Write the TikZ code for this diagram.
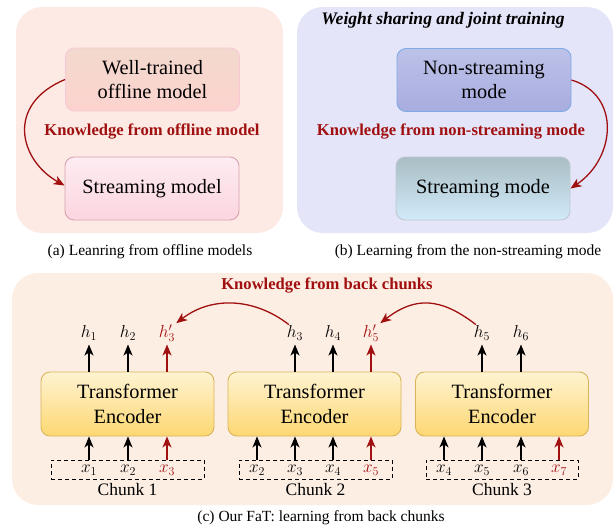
\documentclass[tikz,border=0pt]{standalone}
\usepackage{fontspec}
\setmainfont{Liberation Serif}
\usetikzlibrary{arrows.meta,positioning}

\definecolor{kred}{RGB}{160,16,16}
\definecolor{bga}{RGB}{253,234,228}
\definecolor{bgb}{RGB}{229,229,250}
\definecolor{bgc}{RGB}{253,238,228}
\definecolor{welltop}{RGB}{242,217,206}
\definecolor{wellbot}{RGB}{252,211,206}
\definecolor{wellrim}{RGB}{248,200,214}
\definecolor{strmtop}{RGB}{253,236,241}
\definecolor{strmbot}{RGB}{252,213,224}
\definecolor{strmrim}{RGB}{216,162,176}
\definecolor{nontop}{RGB}{188,194,232}
\definecolor{nonbot}{RGB}{168,172,223}
\definecolor{nonrim}{RGB}{128,170,230}
\definecolor{modetop}{RGB}{169,190,196}
\definecolor{modebot}{RGB}{209,234,250}
\definecolor{moderim}{RGB}{190,200,208}
\definecolor{enctop}{RGB}{254,243,210}
\definecolor{encbot}{RGB}{253,215,113}
\definecolor{encrim}{RGB}{216,181,90}

\begin{document}
\begin{tikzpicture}[
        x=1pt, y=-1pt,
        panel/.style={rounded corners=26pt},
        modelbox/.style={draw, rounded corners=9pt, line width=0.9pt, align=center,
            font=\fontsize{20.3}{24.5}\selectfont, minimum width=174pt, minimum height=63pt},
        encbox/.style={modelbox, draw=encrim, top color=enctop, bottom color=encbot,
            minimum width=173pt, minimum height=64pt},
        chunkbox/.style={draw, dashed, dash pattern=on 4pt off 3pt, line width=0.9pt,
            minimum height=19pt, inner sep=0pt},
        know/.style={text=kred, font=\bfseries\fontsize{16.6}{20}\selectfont},
        kflow/.style={draw=kred, line width=1.3pt, -{Stealth[length=11pt,width=9pt,inset=3pt]}},
        flow/.style={line width=1.3pt, -{Stealth[length=11pt,width=9pt,inset=3pt]}},
        lab/.style={font=\fontsize{18.5}{22}\selectfont, inner sep=1pt},
        chunkname/.style={font=\fontsize{17.5}{20}\selectfont, inner sep=2pt},
        captext/.style={font=\fontsize{15.5}{18}\selectfont}
    ]
        \useasboundingbox (0,0) rectangle (614,528);
        % panel backgrounds
        \fill[bga, panel] (16,7) rectangle (283,233);
        \fill[bgb, panel] (297,7) rectangle (613,233);
        \fill[bgc, panel] (12,273) rectangle (613,505);

        % (a) learning from offline models
        \node[modelbox, draw=wellrim, top color=welltop, bottom color=wellbot] (well) at (152.5,79.5) {Well-trained\\offline model};
        \node[modelbox, draw=strmrim, top color=strmtop, bottom color=strmbot] (strm) at (152,188.5) {Streaming model};
        \node[know] (knowa) at (152,131) {Knowledge from offline model};
        \draw[kflow] (well.west) .. controls +(-60,25) and +(-45,-25) .. ([yshift=3pt]strm.west);
        \node[captext] (capa) at (150,252) {(a) Leanring from offline models};

        % (b) learning from the non-streaming mode
        \node[font=\bfseries\itshape\fontsize{17.6}{20}\selectfont] (titleb) at (443,20) {Weight sharing and joint training};
        \node[modelbox, draw=nonrim, top color=nontop, bottom color=nonbot] (non) at (484,80) {Non-streaming\\mode};
        \node[modelbox, draw=moderim, top color=modetop, bottom color=modebot] (mode) at (483,188.5) {Streaming mode};
        \node[know] (knowb) at (451,131) {Knowledge from non-streaming mode};
        \draw[kflow] (non.east) .. controls +(50,15) and +(45,-30) .. (mode.east);
        \node[captext] (capb) at (468,252) {(b) Learning from the non-streaming mode};

        % (c) learning from back chunks
        \node[know] (knowc) at (327,285) {Knowledge from back chunks};
        \node[encbox] (enc1) at (127.5,404) {Transformer\\Encoder};
        \node[encbox] (enc2) at (314.5,404) {Transformer\\Encoder};
        \node[encbox] (enc3) at (502,404) {Transformer\\Encoder};
        \node[chunkbox, minimum width=153pt] (ck1) at (127.5,469.5) {};
        \node[chunkbox, minimum width=153pt] (ck2) at (315.5,469.5) {};
        \node[chunkbox, minimum width=152pt] (ck3) at (502,469.5) {};
        \node[chunkname, below=1.5pt of ck1] (nm1) {Chunk 1};
        \node[chunkname, below=1.5pt of ck2] (nm2) {Chunk 2};
        \node[chunkname, below=1.5pt of ck3] (nm3) {Chunk 3};

        % inputs
        \foreach \px/\t/\c [count=\i] in {89/x_1/black, 128/x_2/black, 167/x_3/kred} {
            \node[lab, text=\c] (xa\i) at (\px,470.5) {$\t$};
            \draw[flow, \c] (xa\i |- ck1.north) -- (xa\i |- enc1.south);
        }
        \foreach \px/\t/\c [count=\i] in {257/x_2/black, 295/x_3/black, 333/x_4/black, 371/x_5/kred} {
            \node[lab, text=\c] (xb\i) at (\px,470.5) {$\t$};
            \draw[flow, \c] (xb\i |- ck2.north) -- (xb\i |- enc2.south);
        }
        \foreach \px/\t/\c [count=\i] in {444/x_4/black, 482/x_5/black, 521/x_6/black, 559/x_7/kred} {
            \node[lab, text=\c] (xc\i) at (\px,470.5) {$\t$};
            \draw[flow, \c] (xc\i |- ck3.north) -- (xc\i |- enc3.south);
        }

        % outputs
        \foreach \px/\t/\c [count=\i] in {89/h_1/black, 128/h_2/black, 167/h'_3/kred} {
            \node[lab, text=\c] (ha\i) at (\px,333) {$\t$};
            \draw[flow, \c, shorten >=3pt] (ha\i |- enc1.north) -- (ha\i |- ha1.south);
        }
        \foreach \px/\t/\c [count=\i] in {295/h_3/black, 333/h_4/black, 371/h'_5/kred} {
            \node[lab, text=\c] (hb\i) at (\px,333) {$\t$};
            \draw[flow, \c, shorten >=3pt] (hb\i |- enc2.north) -- (hb\i |- ha1.south);
        }
        \foreach \px/\t/\c [count=\i] in {482/h_5/black, 521/h_6/black} {
            \node[lab, text=\c] (hc\i) at (\px,333) {$\t$};
            \draw[flow, \c, shorten >=3pt] (hc\i |- enc3.north) -- (hc\i |- ha1.south);
        }
        \draw[kflow] ([xshift=3pt]hb1.north west) .. controls +(-35,-27) and +(35,-27) .. (ha3.north east);
        \draw[kflow] ([xshift=3pt]hc1.north west) .. controls +(-35,-27) and +(35,-27) .. (hb3.north east);
        \node[captext] (capc) at (321,518) {(c) Our FaT: learning from back chunks};
    \end{tikzpicture}
\end{document}
